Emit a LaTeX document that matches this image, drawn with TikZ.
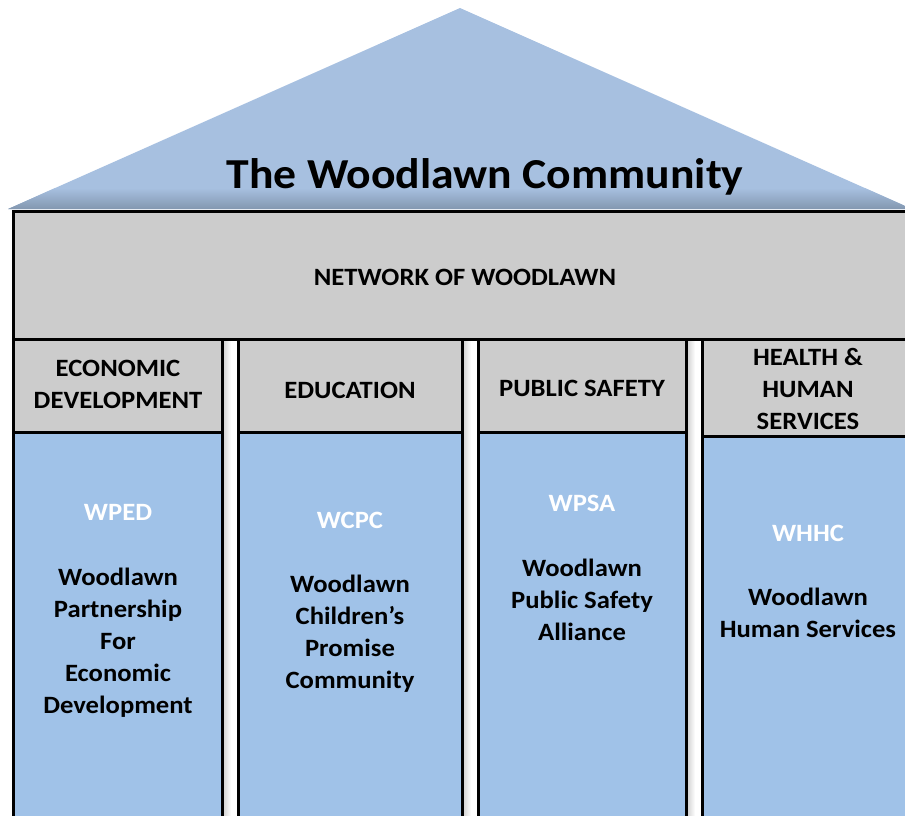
\documentclass[tikz,border=0pt]{standalone}
\usepackage{fontspec}
\setmainfont{Carlito}[FakeStretch=1.07]
\definecolor{roof}{HTML}{A7C0E0}
\definecolor{roofdark}{HTML}{7F93AB}
\definecolor{hdr}{HTML}{CCCCCC}
\definecolor{body}{HTML}{A0C2E8}
\tikzset{
  boxline/.style={draw=black, line width=3pt},
  hdrtxt/.style={font=\bfseries\fontsize{24.9}{28}\selectfont, anchor=base, inner sep=0pt},
  bodytxt/.style={font=\bfseries\fontsize{24.9}{28}\selectfont, anchor=base, inner sep=0pt},
  acrtxt/.style={font=\bfseries\fontsize{24.9}{28}\selectfont, anchor=base, inner sep=0pt, text=white},
  titletxt/.style={font=\bfseries\fontsize{42.7}{48}\selectfont, anchor=base, inner sep=0pt},
  gapshade/.style={left color=black!18, right color=white}
}
\begin{document}
\begin{tikzpicture}[x=1pt,y=-1pt]
\useasboundingbox (0,0) rectangle (905,815);
\clip (0,0) rectangle (905,815);
% roof
\fill[roof] (8,209) -- (460,8) -- (912,209) -- cycle;
\begin{scope}
  \clip (8,209) -- (460,8) -- (912,209) -- cycle;
  \shade[top color=roof, bottom color=roofdark] (0,188) rectangle (920,211);
\end{scope}
\node[titletxt] (title) at (485,188) {The Woodlawn Community};
% gap shadows
\shade[gapshade] (223,339) rectangle (231,830);
\shade[gapshade] (463,339) rectangle (471,830);
\shade[gapshade] (687,339) rectangle (695,830);
% banner
\draw[boxline, fill=hdr] (13,211) rectangle (930,339);
\node[hdrtxt] (net) at (465,285) {NETWORK OF WOODLAWN};
% columns
\draw[boxline, fill=body] (13,339) rectangle (222,840);
\draw[boxline, fill=hdr] (13,339) rectangle (222,432);
\draw[boxline, fill=body] (238,339) rectangle (462,840);
\draw[boxline, fill=hdr] (238,339) rectangle (462,432);
\draw[boxline, fill=body] (478,339) rectangle (686,840);
\draw[boxline, fill=hdr] (478,339) rectangle (686,432);
\draw[boxline, fill=body] (702,339) rectangle (930,840);
\draw[boxline, fill=hdr] (702,339) rectangle (930,436);
% headers
\node[hdrtxt] (h1a) at (118,376) {ECONOMIC};
\node[hdrtxt] (h1b) at (118,408) {DEVELOPMENT};
\node[hdrtxt] (h2) at (350,398) {EDUCATION};
\node[hdrtxt] (h3) at (582,396) {PUBLIC SAFETY};
\node[hdrtxt] (h4a) at (808,365) {HEALTH \&};
\node[hdrtxt] (h4b) at (808,397) {HUMAN};
\node[hdrtxt] (h4c) at (808,429) {SERVICES};
% column 1
\node[acrtxt] (a1) at (118,520) {WPED};
\foreach \t [count=\i] in {Woodlawn, Partnership, For, Economic, Development}
  \node[bodytxt] (c1l\i) at (118,585+32*\i-32) {\t};
% column 2
\node[acrtxt] (a2) at (350,528) {WCPC};
\foreach \t [count=\i] in {Woodlawn, Children’s, Promise, Community}
  \node[bodytxt] (c2l\i) at (350,592+32*\i-32) {\t};
% column 3
\node[acrtxt] (a3) at (582,511) {WPSA};
\foreach \t [count=\i] in {Woodlawn, Public Safety, Alliance}
  \node[bodytxt] (c3l\i) at (582,576+32*\i-32) {\t};
% column 4
\node[acrtxt] (a4) at (808,541) {WHHC};
\foreach \t [count=\i] in {Woodlawn, Human Services}
  \node[bodytxt] (c4l\i) at (808,605+32*\i-32) {\t};
\end{tikzpicture}
\end{document}
